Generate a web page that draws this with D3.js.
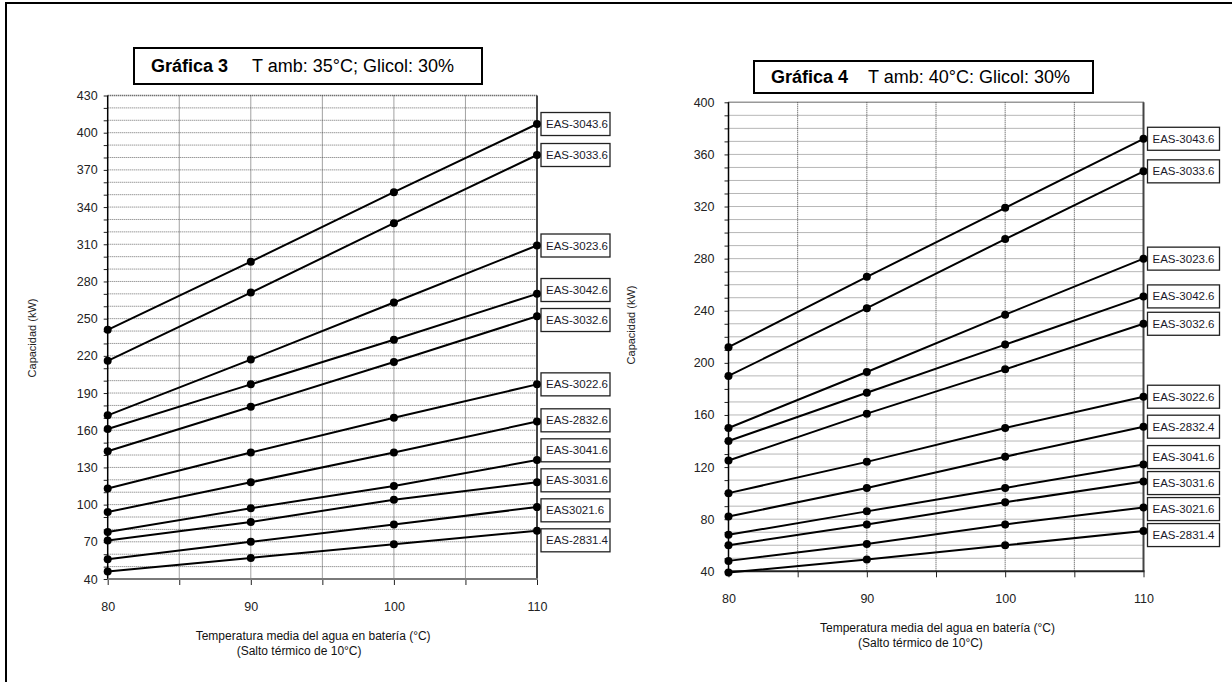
<!DOCTYPE html>
<html>
<head>
<meta charset="utf-8">
<script src="https://cdn.jsdelivr.net/npm/d3@7"></script>
<style>
  body { margin: 0; background: #fff; }
  svg { display: block; font-family: "Liberation Sans", Arial, sans-serif; }
  .axis path { display: none; }
</style>
</head>
<body>
<div id="container"></div>
<script>
// water temperature (°C) at which capacities are given
var temps = [80, 90, 100, 110];
var xTicks = [80, 85, 90, 95, 100, 105, 110];
var xTickLabels = [80, 90, 100, 110];

// Gráfica 3 - T amb 35°C, glicol 30%
var models3 = ["EAS-3043.6", "EAS-3033.6", "EAS-3023.6", "EAS-3042.6", "EAS-3032.6", "EAS-3022.6",
               "EAS-2832.6", "EAS-3041.6", "EAS-3031.6", "EAS3021.6", "EAS-2831.4"];
var cap3 = [
  [241, 296, 352, 407],
  [216, 271, 327, 382],
  [172, 217, 263, 309],
  [161, 197, 233, 270],
  [143, 179, 215, 252],
  [113, 142, 170, 197],
  [94, 118, 142, 167],
  [78, 97, 115, 136],
  [71, 86, 104, 118],
  [56, 70, 84, 98],
  [46, 57, 68, 79]
];
var yLabels3 = [40, 70, 100, 130, 160, 190, 220, 250, 280, 310, 340, 370, 400, 430];

// Gráfica 4 - T amb 40°C, glicol 30%
var models4 = ["EAS-3043.6", "EAS-3033.6", "EAS-3023.6", "EAS-3042.6", "EAS-3032.6", "EAS-3022.6",
               "EAS-2832.4", "EAS-3041.6", "EAS-3031.6", "EAS-3021.6", "EAS-2831.4"];
var cap4 = [
  [212, 266, 319, 372],
  [190, 242, 295, 347],
  [150, 193, 237, 280],
  [140, 177, 214, 251],
  [125, 161, 195, 230],
  [100, 124, 150, 174],
  [82, 104, 128, 151],
  [68, 86, 104, 122],
  [60, 76, 93, 109],
  [48, 61, 76, 89],
  [39, 49, 60, 71]
];
var yLabels4 = [40, 80, 120, 160, 200, 240, 280, 320, 360, 400];

var width = 1232, height = 682;

var svg = d3.select("#container").append("svg")
    .attr("width", width)
    .attr("height", height);

// outer frame (only top/left visible)
svg.append("rect")
    .attr("x", 6).attr("y", 3)
    .attr("width", 1260).attr("height", 720)
    .attr("fill", "none").attr("stroke", "#000").attr("stroke-width", 2);

// push label boxes apart so they do not overlap
function spread(targets, gap) {
    var order = d3.range(targets.length).sort(function(a, b) { return targets[a] - targets[b]; });
    var cl = [];
    function start(c) { return c.sum / c.ids.length - (c.ids.length - 1) * gap / 2; }
    order.forEach(function(i) {
        cl.push({ids: [i], sum: targets[i]});
        while (cl.length > 1) {
            var a = cl[cl.length - 2], b = cl[cl.length - 1];
            var aEnd = start(a) + (a.ids.length - 1) * gap;
            if (start(b) - aEnd >= gap) break;
            cl.splice(-2, 2, {ids: a.ids.concat(b.ids), sum: a.sum + b.sum});
        }
    });
    var out = [];
    cl.forEach(function(c) {
        c.ids.forEach(function(id, k) { out[id] = start(c) + k * gap; });
    });
    return out;
}

function drawChart(o) {
    var x = d3.scaleLinear().domain([80, 110]).range([o.left, o.right]);
    var y = d3.scaleLinear().domain(o.yDomain).range([o.bottom, o.top]);
    var g = svg.append("g");

    // title box
    g.append("rect")
        .attr("x", o.title.x).attr("y", o.title.y)
        .attr("width", o.title.w).attr("height", o.title.h)
        .attr("fill", "#fff").attr("stroke", "#000").attr("stroke-width", 2);
    g.append("text")
        .attr("x", o.title.x + 17).attr("y", o.title.y + o.title.h / 2 + 6)
        .attr("font-size", 18).attr("font-weight", "bold")
        .text(o.title.bold);
    g.append("text")
        .attr("x", o.title.x2).attr("y", o.title.y + o.title.h / 2 + 6)
        .attr("font-size", 18)
        .text(o.title.rest);

    // horizontal grid every 10
    var minor = d3.range(o.yDomain[0] + 10, o.yDomain[1] + 1, 10);
    g.append("g").selectAll("line")
        .data(minor)
        .enter().append("line")
        .attr("x1", o.left).attr("x2", o.right)
        .attr("y1", function(d) { return y(d); })
        .attr("y2", function(d) { return y(d); })
        .attr("stroke", function(d) { return d === o.yDomain[1] ? "#333" : "#6e6e6e"; })
        .attr("stroke-width", function(d) { return d === o.yDomain[1] ? 1.5 : 1; })
        .attr("stroke-dasharray", "1,1");

    // vertical grid
    g.append("g").selectAll("line")
        .data(xTicks.slice(1, -1))
        .enter().append("line")
        .attr("x1", function(d) { return x(d); })
        .attr("x2", function(d) { return x(d); })
        .attr("y1", o.top).attr("y2", o.bottom)
        .attr("stroke", "#444").attr("stroke-dasharray", "1,1");

    // right border of plot
    g.append("line")
        .attr("x1", x(110)).attr("x2", x(110))
        .attr("y1", o.top).attr("y2", o.bottom)
        .attr("stroke", "#444").attr("stroke-width", 2);

    var yAxis = d3.axisLeft(y)
        .tickValues(d3.range(o.yDomain[0], o.yDomain[1] + 1, 10))
        .tickSize(4)
        .tickPadding(o.yPad)
        .tickFormat(function(d) { return o.yLabels.indexOf(d) >= 0 ? d : ""; });
    var ya = g.append("g")
        .attr("class", "y axis")
        .attr("transform", "translate(" + o.left + ",0)")
        .call(yAxis);
    ya.selectAll(".tick line").attr("stroke", "#222");

    var xAxis = d3.axisBottom(x)
        .tickValues(xTicks)
        .tickSize(6)
        .tickPadding(17)
        .tickFormat(function(d) { return xTickLabels.indexOf(d) >= 0 ? d : ""; });
    var xa = g.append("g")
        .attr("class", "x axis")
        .attr("transform", "translate(0," + o.bottom + ")")
        .call(xAxis);
    xa.selectAll(".tick line").attr("stroke", "#222");

    g.selectAll(".axis")
        .attr("font-family", "Liberation Sans, Arial, sans-serif")
        .attr("font-size", 12.5);
    g.selectAll(".axis .tick text")
        .attr("fill", "#222")
        .style("font-size", "12.5px");

    // axis lines
    g.append("line")
        .attr("x1", o.left).attr("x2", o.left)
        .attr("y1", o.top).attr("y2", o.bottom)
        .attr("stroke", "#000").attr("stroke-width", 1.5);
    g.append("line")
        .attr("x1", o.left).attr("x2", x(110) + 1)
        .attr("y1", o.bottom).attr("y2", o.bottom)
        .attr("stroke", o.baseColor).attr("stroke-width", 2);

    // axis titles
    g.append("text")
        .attr("transform", "translate(" + o.yTitleX + "," + o.yTitleY + ") rotate(-90)")
        .attr("text-anchor", "middle")
        .attr("font-size", 11).attr("fill", "#222")
        .text("Capacidad (kW)");
    g.append("text")
        .attr("x", o.left + o.xTitleDx[0]).attr("y", o.bottom + 61)
        .attr("font-size", 12).attr("fill", "#111")
        .text("Temperatura media del agua en batería (°C)");
    g.append("text")
        .attr("x", o.left + o.xTitleDx[1]).attr("y", o.bottom + 76)
        .attr("font-size", 12).attr("fill", "#111")
        .text("(Salto térmico de 10°C)");

    // series
    var line = d3.line()
        .x(function(d, i) { return x(temps[i]); })
        .y(function(d) { return y(d); });

    g.selectAll(".serie")
        .data(o.values)
        .enter().append("path")
        .attr("class", "serie")
        .attr("d", line)
        .attr("fill", "none")
        .attr("stroke", "#000")
        .attr("stroke-width", 2);

    o.values.forEach(function(vals) {
        g.selectAll(null)
            .data(vals)
            .enter().append("circle")
            .attr("r", 4)
            .attr("cx", function(d, i) { return x(temps[i]); })
            .attr("cy", function(d) { return y(d); })
            .attr("fill", "#000");
    });

    // end labels
    var pos = spread(o.values.map(function(v) { return y(v[v.length - 1]); }), o.labelGap);
    var lab = g.selectAll(".lab")
        .data(o.models)
        .enter().append("g")
        .attr("class", "lab")
        .attr("transform", function(d, i) { return "translate(" + (x(110) + 4) + "," + pos[i] + ")"; });
    lab.append("rect")
        .attr("x", 0).attr("y", -11.5)
        .attr("width", o.boxW).attr("height", 23)
        .attr("fill", "#fff").attr("stroke", "#222").attr("stroke-width", 1.3);
    lab.append("text")
        .attr("x", 5).attr("y", 4)
        .attr("font-size", 11.5).attr("fill", "#1a1a2a")
        .text(function(d) { return d; });
}

drawChart({
    left: 107.7, right: 537, top: 95.5, bottom: 579,
    yDomain: [40, 430], yLabels: yLabels3, yPad: 6,
    values: cap3, models: models3, labelGap: 30, boxW: 69,
    baseColor: "#7a7a7a",
    yTitleX: 36, yTitleY: 338,
    xTitleDx: [88, 129],
    title: {x: 134, y: 48, w: 348, h: 36, x2: 252, bold: "Gráfica 3", rest: "T amb: 35°C; Glicol: 30%"}
});

drawChart({
    left: 728.5, right: 1143.5, top: 102.3, bottom: 571.3,
    yDomain: [40, 400], yLabels: yLabels4, yPad: 10,
    values: cap4, models: models4, labelGap: 26, boxW: 72,
    baseColor: "#222",
    yTitleX: 635, yTitleY: 325,
    xTitleDx: [91.5, 129.5],
    title: {x: 754, y: 61, w: 339, h: 32, x2: 868, bold: "Gráfica 4", rest: "T amb: 40°C: Glicol: 30%"}
});
</script>
</body>
</html>
